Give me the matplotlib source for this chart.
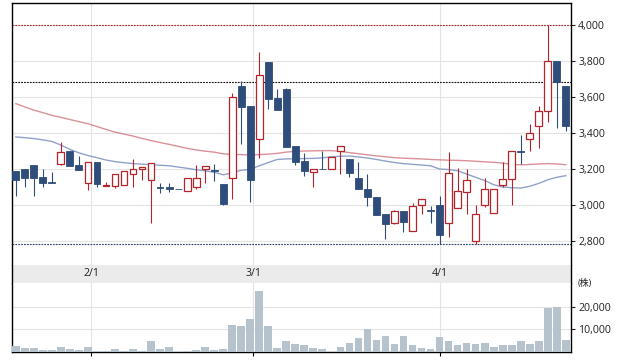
import matplotlib
matplotlib.use('Agg')
import matplotlib.pyplot as plt
import matplotlib.transforms as mtransforms
import numpy as np

plt.rcParams['font.family'] = ['Open Sans', 'Noto Sans CJK JP', 'DejaVu Sans']

# ---- data ----
opens  = [3189, 3200, 3222, 3156, 3130, 3230, 3300, 3222, 3124, 3237,
          3104, 3104, 3109, 3170, 3198, 3137, 3098, 3100, 3089, 3078,
          3098, 3198, 3193, 3117, 3148, 3659, 3550, 3365, 3794, 3594,
          3643, 3328, 3243, 3185, 3200, 3198, 3298, 3254, 3150, 3087,
          3044, 2948, 2898, 2965, 2857, 3000, 2972, 2998, 2898, 2981,
          3070, 2800, 2998, 2954, 3109, 3146, 3298, 3367, 3441, 3520,
          3800, 3661]
highs  = [3189, 3200, 3222, 3200, 3181, 3348, 3300, 3274, 3237, 3237,
          3130, 3170, 3187, 3256, 3209, 3231, 3120, 3120, 3089, 3148,
          3222, 3219, 3230, 3117, 3620, 3689, 3550, 3850, 3794, 3644,
          3650, 3328, 3289, 3200, 3300, 3269, 3326, 3254, 3237, 3172,
          3044, 2948, 2974, 2965, 3009, 3035, 2996, 3050, 3294, 3204,
          3198, 3000, 3148, 3091, 3237, 3298, 3389, 3448, 3548, 4000,
          3800, 3661]
lows   = [3052, 3102, 3052, 3102, 3124, 3224, 3219, 3196, 3085, 3102,
          3104, 3096, 3109, 3102, 3139, 2902, 3069, 3074, 3087, 3078,
          3091, 3120, 3133, 3002, 3035, 3339, 3017, 3263, 3535, 3530,
          3324, 3224, 3163, 3102, 3198, 3198, 3172, 3154, 3091, 2996,
          2944, 2809, 2893, 2848, 2854, 2952, 2902, 2785, 2824, 2981,
          2952, 2782, 2987, 2954, 3102, 3002, 3230, 3302, 3315, 3461,
          3430, 3411]
closes = [3137, 3148, 3152, 3124, 3124, 3293, 3219, 3196, 3237, 3118,
          3111, 3170, 3187, 3198, 3209, 3231, 3094, 3087, 3087, 3148,
          3148, 3215, 3189, 3006, 3602, 3546, 3139, 3720, 3591, 3530,
          3324, 3241, 3191, 3200, 3198, 3269, 3326, 3180, 3091, 3046,
          2946, 2896, 2965, 2907, 2996, 3035, 2968, 2831, 3176, 3080,
          3137, 2948, 3091, 3091, 3146, 3298, 3294, 3398, 3520, 3798,
          3683, 3441]
ma_short = [3378, 3374, 3369, 3362, 3353, 3333, 3309, 3290, 3275, 3263,
            3250, 3241, 3235, 3230, 3227, 3224, 3221, 3218, 3211, 3204,
            3196, 3190, 3182, 3168, 3178, 3193, 3198, 3218, 3236, 3253,
            3256, 3257, 3258, 3259, 3262, 3268, 3271, 3272, 3267, 3261,
            3253, 3244, 3236, 3230, 3226, 3222, 3218, 3200, 3197, 3190,
            3172, 3154, 3136, 3113, 3100, 3096, 3094, 3104, 3120, 3140,
            3154, 3163]
ma_long = [3563, 3545, 3527, 3513, 3498, 3487, 3475, 3463, 3452, 3436,
           3420, 3405, 3394, 3383, 3370, 3358, 3347, 3337, 3326, 3315,
           3306, 3299, 3294, 3284, 3281, 3280, 3278, 3280, 3283, 3287,
           3294, 3298, 3300, 3301, 3302, 3302, 3298, 3291, 3285, 3279,
           3273, 3268, 3263, 3260, 3258, 3256, 3253, 3251, 3249, 3248,
           3246, 3243, 3240, 3237, 3233, 3226, 3223, 3225, 3228, 3230,
           3228, 3224]
volumes = [2500, 1600, 1600, 730, 730, 2050, 1170, 730, 2050, 300,
           300, 1320, 300, 1320, 300, 4850, 1170, 2050, 150, 440,
           730, 2050, 730, 1170, 11900, 11300, 14400, 26900, 11300, 1600,
           4700, 3520, 2940, 1600, 1170, 100, 2200, 3960, 6000, 10000,
           5150, 6900, 3520, 6900, 2940, 1760, 1320, 6460, 4700, 2940,
           3960, 3520, 3960, 2050, 2940, 2940, 4700, 3520, 4700, 19250,
           19800, 5150]
date_labels = ['2/1', '3/1', '4/1']
date_pos = [8.37, 26.36, 47.0]
price_ticks = [2800, 3000, 3200, 3400, 3600, 3800, 4000]
vol_ticks = [10000, 20000]
line_high = 4000
line_prev = 3683
line_low = 2782

# ---- styling ----
RED = '#b5232b'
BLUE = '#2e4d7b'
GRID = '#e4e4e4'
VOLC = '#b6c3cc'

fig = plt.figure(figsize=(6.23, 3.61), dpi=100)
left, width = 0.01878, 0.8982
ax = fig.add_axes([left, 0.26593, width, 0.72493])
band = fig.add_axes([left, 0.2169, width, 0.04903])
axv = fig.add_axes([left, 0.02493, width, 0.19197])

x = np.arange(len(opens))
o = np.array(opens, float); c = np.array(closes, float)
h = np.array(highs, float); l = np.array(lows, float)
up = c >= o

xlim = (-0.455, 61.61)

# main panel
ax.vlines(x, l, h, colors=np.where(up, RED, BLUE), linewidth=0.8, zorder=2)
bw = 0.76
bottoms = np.minimum(o, c)
heights = np.abs(c - o)
ax.bar(x[up], heights[up], bottom=bottoms[up], width=bw, facecolor='white',
       edgecolor=RED, linewidth=0.9, zorder=3)
ax.bar(x[~up], heights[~up], bottom=bottoms[~up], width=bw, facecolor=BLUE,
       edgecolor=BLUE, linewidth=0.6, zorder=3)
ax.plot(x, ma_long, color='#d7848e', linewidth=1.0, alpha=0.9, zorder=1.5)
ax.plot(x, ma_short, color='#8497c4', linewidth=1.0, alpha=0.9, zorder=1.5)

ax.axhline(line_high, color='#a52a2f', linewidth=0.8, linestyle=(0, (1.6, 1.0)), zorder=1.8)
ax.axhline(line_prev, color='#111111', linewidth=0.8, linestyle=(0, (1.6, 1.0)), zorder=1.8)
ax.axhline(line_low, color='#2b4470', linewidth=0.8, linestyle=(0, (1.6, 1.0)), zorder=1.8)

ax.set_xlim(*xlim)
ax.set_ylim(2666.7, 4120.6)
ax.yaxis.tick_right()
ax.set_yticks(price_ticks)
ax.set_yticklabels([f'{v:,}' for v in price_ticks])
ax.set_xticks(date_pos)
ax.tick_params(axis='x', length=0, labelbottom=False)
ax.tick_params(axis='y', length=3, width=0.8, pad=2, labelsize=7.6, colors='#222222')
ax.grid(True, color=GRID, linewidth=0.8, zorder=0)
ax.set_axisbelow(True)
for s in ['left', 'right', 'top']:
    ax.spines[s].set_color('black'); ax.spines[s].set_linewidth(1.0)
ax.spines['bottom'].set_visible(False)

# date band
band.set_facecolor('#ebebeb')
band.set_xlim(*xlim)
band.set_ylim(0, 1)
band.set_xticks([]); band.set_yticks([])
for s in ['top', 'bottom']:
    band.spines[s].set_visible(False)
for s in ['left', 'right']:
    band.spines[s].set_color('black'); band.spines[s].set_linewidth(1.0)
for p, lab in zip(date_pos, date_labels):
    band.text(p, 0.5, lab, ha='center', va='center', fontsize=7.6, color='#222222')

# volume panel
axv.bar(x, volumes, width=0.86, color=VOLC, zorder=3)
axv.set_xlim(*xlim)
axv.set_ylim(0, 30500)
axv.yaxis.tick_right()
axv.set_yticks(vol_ticks)
axv.set_yticklabels([f'{v:,}' for v in vol_ticks])
axv.set_xticks(date_pos)
axv.tick_params(axis='x', length=3, width=0.8, labelbottom=False)
axv.tick_params(axis='y', length=3, width=0.8, pad=2, labelsize=7.6, colors='#222222')
axv.grid(True, color=GRID, linewidth=0.8, zorder=0)
axv.set_axisbelow(True)
for s in ['left', 'right', 'bottom']:
    axv.spines[s].set_color('black'); axv.spines[s].set_linewidth(1.0)
axv.spines['top'].set_visible(False)
trans = mtransforms.blended_transform_factory(axv.transAxes, axv.transData)
axv.text(1.012, 30000, '(株)', transform=trans, ha='left', va='center',
         fontsize=6.5, color='#222222')

fig.savefig('out.png', dpi=100)
